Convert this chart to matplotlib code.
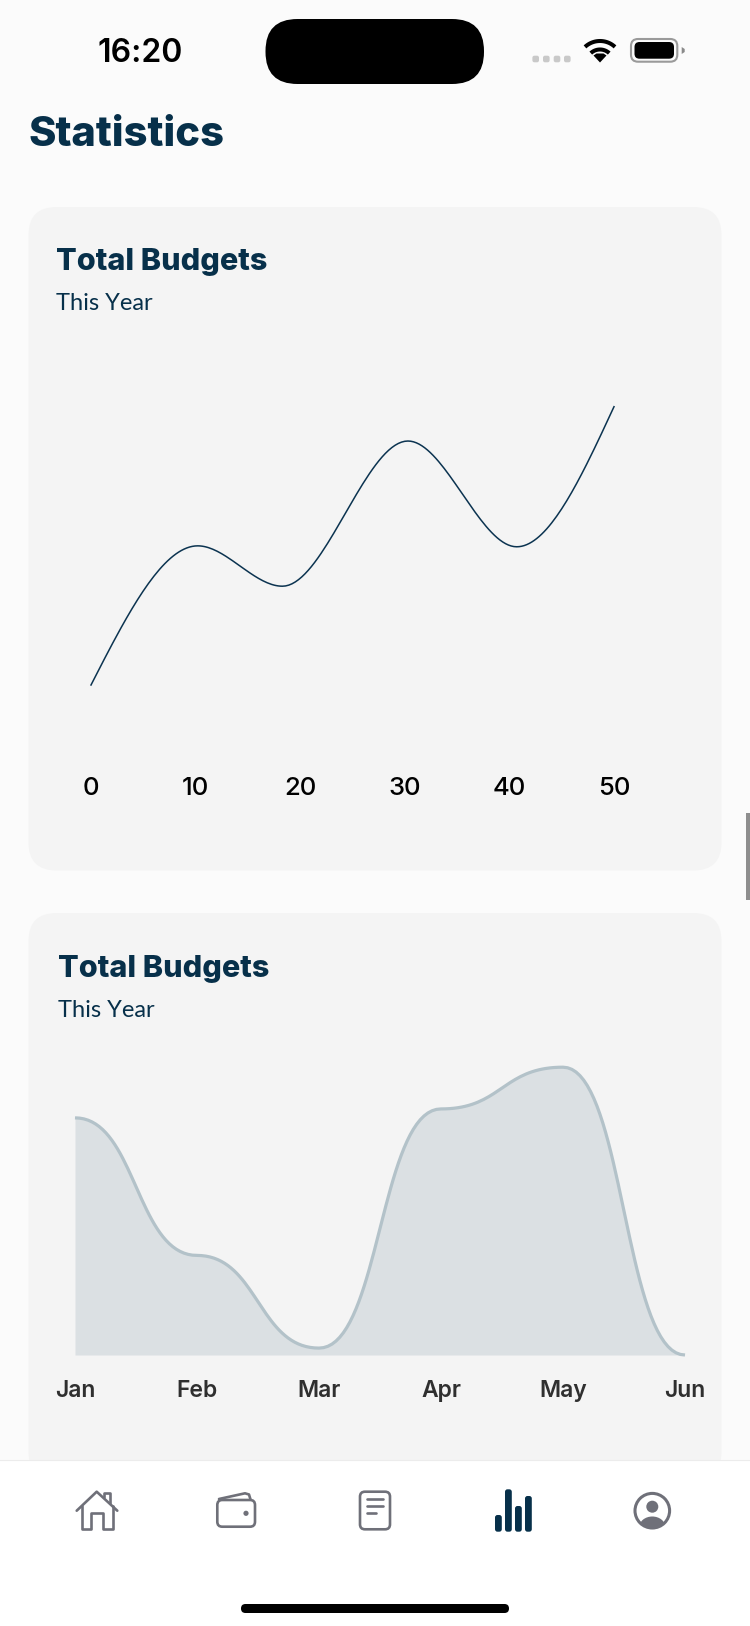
import numpy as np
import matplotlib
matplotlib.use('Agg')
import matplotlib.pyplot as plt
from matplotlib.patches import FancyBboxPatch, Rectangle, Circle, Ellipse, Polygon

W, H = 750, 1626
NAVY = '#07304A'
ICON = '#6F7079'

# line chart values
line_x = [0, 10.2, 18.3, 30.3, 40.7, 50]
line_y = [20, 50.0, 41.3, 72.6, 49.8, 80]
line_ticks = [0, 10, 20, 30, 40, 50]

# area chart values
months = ['Jan', 'Feb', 'Mar', 'Apr', 'May', 'Jun']
area_y = [82.4, 34.6, 2.4, 85.5, 100, 0]


def monotone_curve(x, y, n=40):
    # cubic through the points, flat at turning points
    x = np.array(x, dtype=float)
    y = np.array(y, dtype=float)
    h = np.diff(x)
    s = np.diff(y) / h
    m = np.zeros(len(x))
    m[0] = 1.5 * s[0]
    m[-1] = 1.5 * s[-1]
    xs, ys = [], []
    for i in range(len(h)):
        t = np.linspace(0, 1, n)
        xs.append(x[i] + t * h[i])
        ys.append((2*t**3 - 3*t**2 + 1) * y[i] + (t**3 - 2*t**2 + t) * h[i] * m[i]
                  + (-2*t**3 + 3*t**2) * y[i + 1] + (t**3 - t**2) * h[i] * m[i + 1])
    return np.concatenate(xs), np.concatenate(ys)


def bump_curve(y, n=40):
    # horizontal bezier handles between neighbouring months
    xs, ys = [], []
    t = np.linspace(0, 1, n)
    for i in range(len(y) - 1):
        xm = i + 0.5
        xs.append((1-t)**3 * i + 3*(1-t)**2*t * xm + 3*(1-t)*t**2 * xm + t**3 * (i + 1))
        ys.append(((1-t)**3 + 3*(1-t)**2*t) * y[i] + (3*(1-t)*t**2 + t**3) * y[i + 1])
    return np.concatenate(xs), np.concatenate(ys)


def px_axes(fig, left, top, right, bottom):
    return fig.add_axes([left / W, 1 - bottom / H, (right - left) / W, (bottom - top) / H])


def rounded(ax, x0, y0, x1, y1, r, **kw):
    box = FancyBboxPatch((x0 + r, y0 + r), x1 - x0 - 2 * r, y1 - y0 - 2 * r,
                         boxstyle='round,pad=%f,rounding_size=%f' % (r, r), **kw)
    ax.add_patch(box)


def draw_status_bar(ax):
    ax.text(140.5, 62, '16:20', fontsize=23, family='Inter', weight='semibold', color='black',
            ha='center', va='baseline')
    rounded(ax, 265.5, 19, 484, 84, 32, fc='black', ec='none')
    for cx in [535.7, 546.3, 557, 567.3]:
        rounded(ax, cx - 3.3, 55.7, cx + 3.3, 62.3, 2, fc='#C9C9C9', ec='none')
    # wifi
    for r in [22, 13.5]:
        a = np.radians(np.linspace(47, 133, 30))
        ax.plot(600 + r * np.cos(a), 63 - r * np.sin(a), color='black', lw=2.9, solid_capstyle='butt')
    ax.add_patch(Polygon([(600, 62.5), (593.5, 55.5), (596.5, 53.5), (603.5, 53.5), (606.5, 55.5)],
                         fc='black', ec='none'))
    # battery
    rounded(ax, 631, 39, 677.3, 61.7, 7, fc='none', ec='#9A9A9A', lw=1.5)
    rounded(ax, 634.5, 42, 674, 58.7, 5, fc='black', ec='none')
    ax.add_patch(Polygon([(681.7, 47), (684.7, 49), (684.7, 52), (681.7, 54)], fc='#8A8A8A', ec='none'))


def draw_tab_bar(ax):
    ax.add_patch(Rectangle((0, 1460), W, H - 1460, fc='white', ec='none'))
    ax.plot([0, W], [1460, 1460], color='#ECECEC', lw=0.8)
    st = dict(color=ICON, lw=1.9, solid_capstyle='round', solid_joinstyle='round')
    # home
    ax.plot([76.7, 96.7, 117.3], [1510.7, 1491.7, 1510.7], **st)
    ax.plot([81.7, 81.7, 90.7, 90.7, 103.3, 103.3, 112.7, 112.7],
            [1506, 1529.3, 1529.3, 1513, 1513, 1529.3, 1529.3, 1506], **st)
    ax.plot([104.3, 104.3, 110, 110], [1497, 1492.7, 1492.7, 1502.5], **st)
    # wallet
    rounded(ax, 217.3, 1500, 255, 1526.7, 5, fc='none', ec=ICON, lw=1.9)
    ax.plot([219, 245, 249, 250.5], [1499, 1493.3, 1494.5, 1499.5], **st)
    ax.add_patch(Circle((246, 1513.3), 2.6, fc=ICON, ec='none'))
    # document
    rounded(ax, 360, 1491.7, 390, 1529.3, 5, fc='none', ec=ICON, lw=1.9)
    ax.plot([366.7, 382.7], [1499, 1499], **st)
    ax.plot([366.7, 382.7], [1506, 1506], **st)
    ax.plot([366.7, 376], [1513.3, 1513.3], **st)
    # stats, active tab
    for x0, top in [(495, 1515), (505, 1489.3), (515, 1506), (525, 1496)]:
        rounded(ax, x0, top, x0 + 6.8, 1531.7, 2.5, fc=NAVY, ec='none')
    # profile
    ring = Circle((652.3, 1510.7), 17.3, fc='none', ec=ICON, lw=2.2)
    ax.add_patch(ring)
    ax.add_patch(Circle((652.3, 1506.7), 6, fc=ICON, ec='none'))
    body = Ellipse((652.3, 1527), 26, 21, fc=ICON, ec='none')
    ax.add_patch(body)
    body.set_clip_path(Circle((652.3, 1510.7), 17.3, transform=ax.transData))
    # home indicator
    rounded(ax, 241, 1604, 509, 1613, 4.5, fc='black', ec='none')


fig = plt.figure(figsize=(W / 100, H / 100), dpi=100, facecolor='#FBFBFB')

bg = fig.add_axes([0, 0, 1, 1])
bg.set_xlim(0, W)
bg.set_ylim(H, 0)
bg.axis('off')

rounded(bg, 28.5, 207, 721.5, 870.5, 28, fc='#F4F4F4', ec='none')
rounded(bg, 28.5, 913, 721.5, 1480, 28, fc='#F4F4F4', ec='none')
bg.add_patch(Rectangle((746, 813), 4, 87, fc='#8E8E8E', ec='none'))

bg.text(28, 146, 'Statistics', fontsize=30, family='Inter', weight=800, color=NAVY, va='baseline')
for tx, y1, y2 in [(56, 270, 310.5), (58, 977, 1017)]:
    bg.text(tx, y1, 'Total Budgets', fontsize=22, family='Inter', weight=800, color=NAVY, va='baseline')
    bg.text(tx, y2, 'This Year', fontsize=17, family='Lato', weight='normal', color=NAVY, va='baseline')

draw_status_bar(bg)
draw_tab_bar(bg)

# line chart
ax1 = px_axes(fig, 91, 406.7, 614, 685)
ax1.patch.set_alpha(0)
sx, sy = monotone_curve(line_x, line_y)
ax1.plot(sx, sy, color='#0B3350', lw=1.1, clip_on=False)
ax1.set_xlim(0, 50)
ax1.set_ylim(20, 80)
ax1.set_xticks(line_ticks)
ax1.set_yticks([])
ax1.tick_params(axis='x', length=0, pad=66.5, labelsize=18.5, labelcolor='black')
for lab in ax1.get_xticklabels():
    lab.set_family('Inter')
    lab.set_weight('medium')
for s in ax1.spines.values():
    s.set_visible(False)

# area chart
ax2 = px_axes(fig, 75, 1067.2, 685, 1355)
ax2.patch.set_alpha(0)
sx, sy = bump_curve(area_y)
ax2.fill_between(sx, 0, sy, color='#DBE0E3', lw=0)
ax2.plot(sx, sy, color='#B3C2C9', lw=2.3, clip_on=False, solid_capstyle='butt')
ax2.set_xlim(0, 5)
ax2.set_ylim(0, 100)
ax2.set_xticks(range(6))
ax2.set_xticklabels(months)
ax2.set_yticks([])
ax2.tick_params(axis='x', length=0, pad=18, labelsize=16.5, labelcolor='#2F2F2F')
for lab in ax2.get_xticklabels():
    lab.set_family('Inter')
    lab.set_weight('semibold')
for s in ax2.spines.values():
    s.set_visible(False)

fig.savefig('out.png', dpi=100, facecolor=fig.get_facecolor())
